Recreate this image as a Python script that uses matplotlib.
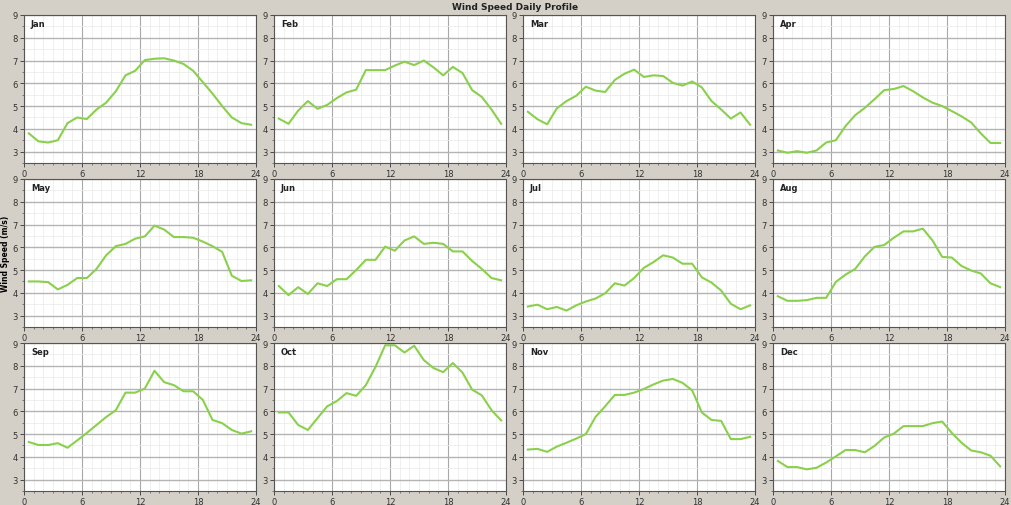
import numpy as np
import matplotlib
matplotlib.use("Agg")
import matplotlib.pyplot as plt
from matplotlib.ticker import MultipleLocator

hours = np.arange(24) + 0.5
months = ["Jan", "Feb", "Mar", "Apr", "May", "Jun",
          "Jul", "Aug", "Sep", "Oct", "Nov", "Dec"]

jan = [3.80, 3.45, 3.40, 3.50, 4.25, 4.50, 4.43, 4.85, 5.15, 5.65, 6.35, 6.55,
       7.02, 7.08, 7.10, 7.00, 6.85, 6.55, 6.05, 5.55, 5.00, 4.50, 4.25, 4.18]
feb = [4.45, 4.22, 4.80, 5.22, 4.88, 5.05, 5.35, 5.60, 5.72, 6.58, 6.58, 6.58,
       6.78, 6.95, 6.80, 7.00, 6.70, 6.35, 6.72, 6.45, 5.70, 5.40, 4.85, 4.22]
mar = [4.75, 4.42, 4.20, 4.90, 5.22, 5.45, 5.85, 5.68, 5.62, 6.15, 6.42, 6.60,
       6.28, 6.35, 6.32, 6.02, 5.90, 6.08, 5.82, 5.22, 4.85, 4.45, 4.72, 4.18]
apr = [3.05, 2.95, 3.02, 2.95, 3.05, 3.40, 3.50, 4.12, 4.60, 4.92, 5.30, 5.70,
       5.75, 5.88, 5.65, 5.38, 5.15, 5.00, 4.78, 4.55, 4.28, 3.80, 3.38, 3.38]
may = [4.50, 4.50, 4.47, 4.15, 4.35, 4.65, 4.65, 5.05, 5.65, 6.05, 6.15, 6.38,
       6.48, 6.95, 6.78, 6.45, 6.45, 6.42, 6.25, 6.05, 5.80, 4.75, 4.52, 4.55]
jun = [4.30, 3.90, 4.25, 3.95, 4.42, 4.30, 4.60, 4.60, 5.00, 5.45, 5.45, 6.03,
       5.85, 6.30, 6.48, 6.15, 6.20, 6.15, 5.82, 5.82, 5.40, 5.05, 4.65, 4.55]
jul = [3.40, 3.48, 3.28, 3.38, 3.22, 3.45, 3.62, 3.75, 3.98, 4.42, 4.32, 4.65,
       5.10, 5.35, 5.65, 5.55, 5.28, 5.28, 4.68, 4.45, 4.10, 3.52, 3.28, 3.45]
aug = [3.85, 3.65, 3.65, 3.68, 3.78, 3.78, 4.48, 4.80, 5.05, 5.60, 6.02, 6.10,
       6.42, 6.70, 6.70, 6.82, 6.30, 5.58, 5.55, 5.18, 4.98, 4.85, 4.42, 4.25]
sep = [4.65, 4.52, 4.52, 4.60, 4.40, 4.72, 5.05, 5.40, 5.75, 6.05, 6.82, 6.82,
       7.00, 7.78, 7.28, 7.15, 6.88, 6.88, 6.50, 5.62, 5.48, 5.18, 5.02, 5.12]
oct_ = [5.95, 5.95, 5.40, 5.18, 5.70, 6.22, 6.45, 6.80, 6.68, 7.15, 7.95, 8.90,
        8.90, 8.58, 8.88, 8.25, 7.90, 7.72, 8.12, 7.70, 6.95, 6.70, 6.05, 5.60]
nov = [4.32, 4.35, 4.22, 4.45, 4.62, 4.80, 5.00, 5.75, 6.22, 6.72, 6.72, 6.82,
       6.98, 7.18, 7.35, 7.42, 7.25, 6.92, 5.95, 5.62, 5.58, 4.78, 4.78, 4.88]
dec = [3.82, 3.55, 3.55, 3.45, 3.52, 3.75, 4.02, 4.30, 4.30, 4.20, 4.48, 4.85,
       5.02, 5.35, 5.35, 5.35, 5.48, 5.55, 5.05, 4.62, 4.28, 4.20, 4.05, 3.58]

profiles = [jan, feb, mar, apr, may, jun, jul, aug, sep, oct_, nov, dec]

bg = "#d4d0c8"
fig = plt.figure(figsize=(10.12, 5.06), dpi=100, facecolor=bg)
W, H = 1012.0, 506.0

lefts = [24, 274, 523, 773]
tops = [16, 180, 344]
aw, ah = 232, 148

for i, (name, vals) in enumerate(zip(months, profiles)):
    r, c = divmod(i, 4)
    ax = fig.add_axes([lefts[c] / W, 1 - (tops[r] + ah) / H, aw / W, ah / H])
    ax.set_facecolor("white")
    ax.plot(hours, vals, color="#8ad04c", lw=1.5, solid_joinstyle="round")
    ax.set_xlim(0, 24)
    ax.set_ylim(2.5, 9)
    ax.xaxis.set_major_locator(MultipleLocator(6))
    ax.xaxis.set_minor_locator(MultipleLocator(1))
    ax.yaxis.set_major_locator(MultipleLocator(1))
    ax.yaxis.set_minor_locator(MultipleLocator(0.5))
    ax.grid(which="minor", color="#ececec", lw=0.6)
    ax.grid(which="major", axis="x", color="#a8a8a8", lw=0.8)
    ax.grid(which="major", axis="y", color="#b4b4b4", lw=1.0)
    ax.set_axisbelow(True)
    ax.tick_params(which="major", labelsize=6, length=3, width=0.6,
                   colors="#333333", pad=1.5)
    ax.tick_params(which="minor", length=1.5, width=0.5, colors="#555555")
    for s in ax.spines.values():
        s.set_color("#555555")
        s.set_linewidth(0.8)
    ax.text(0.03, 0.975, name, transform=ax.transAxes, fontsize=6,
            fontweight="bold", va="top", ha="left", color="#222222")
    if i == 4:
        ax.set_ylabel("Wind Speed (m/s)", fontsize=5.5, fontweight="bold",
                      labelpad=2)

fig.text(0.509, 0.995, "Wind Speed Daily Profile", ha="center", va="top",
         fontsize=6.5, fontweight="bold", color="#222222")

fig.savefig("out.png", dpi=100, facecolor=bg)
